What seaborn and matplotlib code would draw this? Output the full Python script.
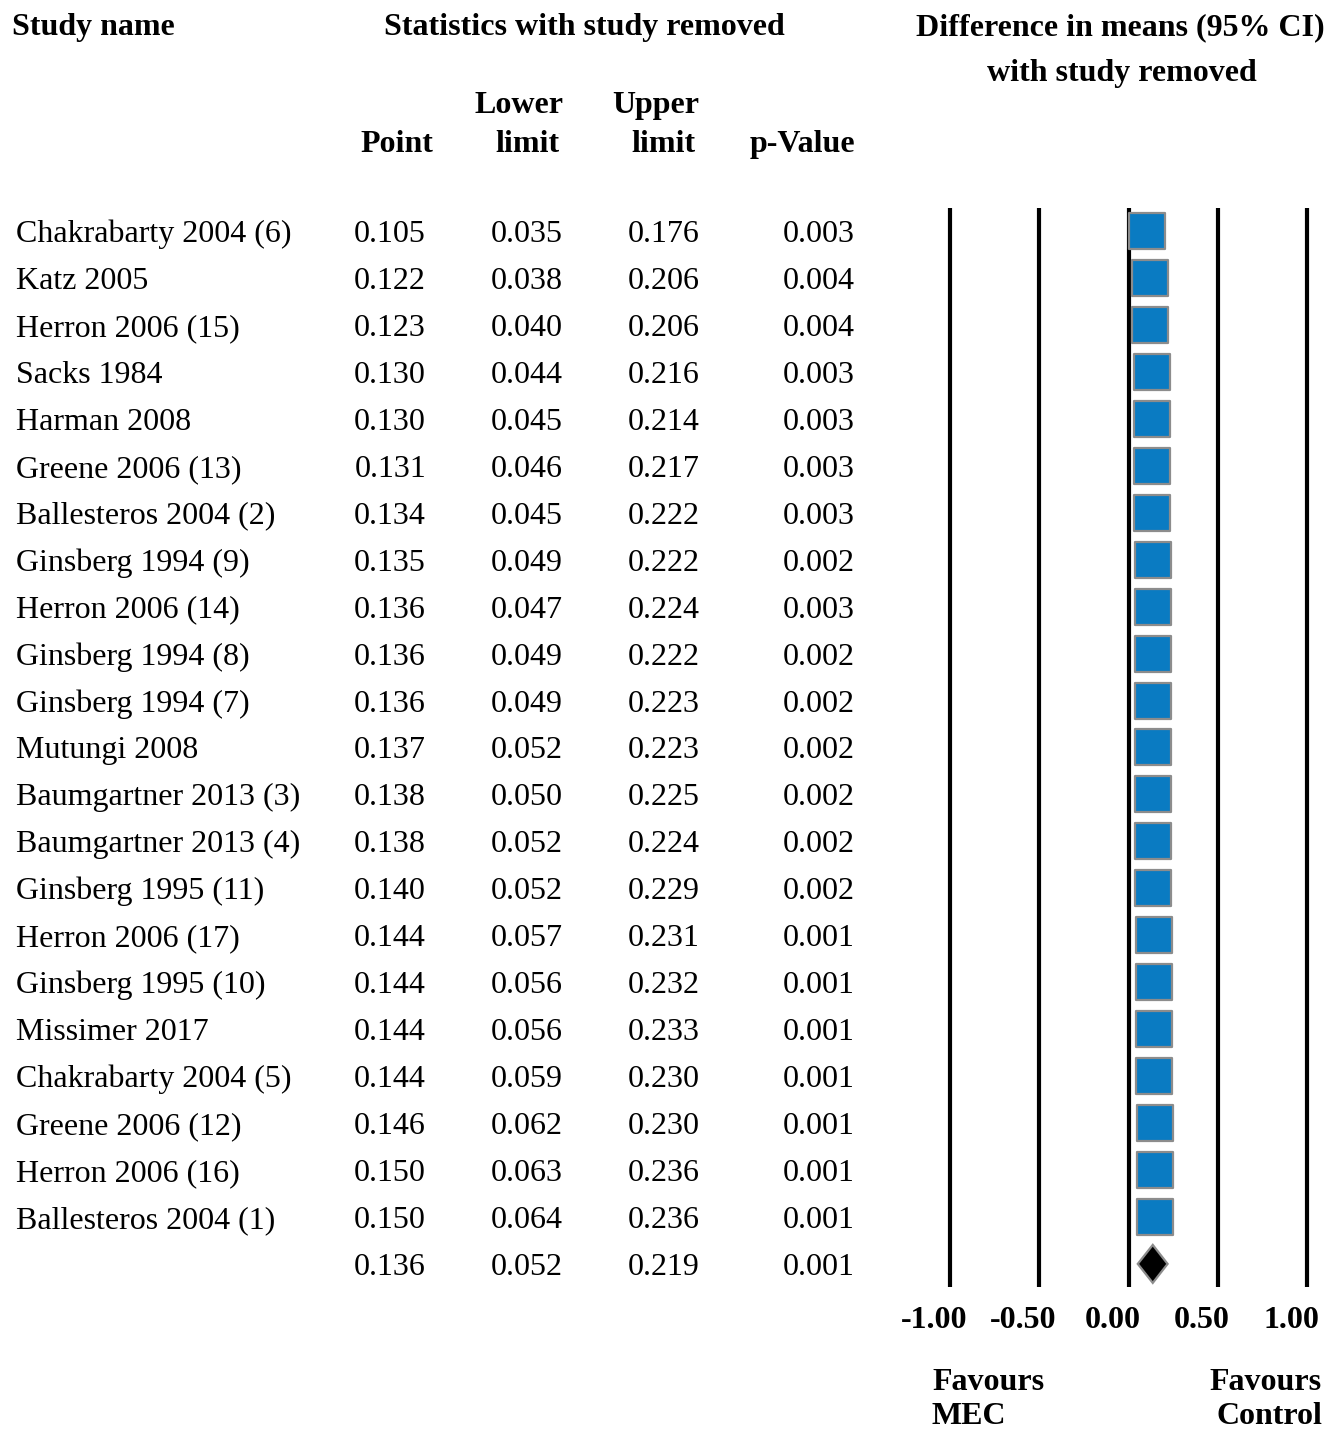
import numpy as np
import pandas as pd
import matplotlib
matplotlib.use("Agg")
import matplotlib.pyplot as plt
import seaborn as sns
from matplotlib.patches import Polygon

# --- data ---
study_names = [
    "Chakrabarty 2004 (6)", "Katz 2005", "Herron 2006 (15)", "Sacks 1984",
    "Harman 2008", "Greene 2006 (13)", "Ballesteros 2004 (2)", "Ginsberg 1994 (9)",
    "Herron 2006 (14)", "Ginsberg 1994 (8)", "Ginsberg 1994 (7)", "Mutungi 2008",
    "Baumgartner 2013 (3)", "Baumgartner 2013 (4)", "Ginsberg 1995 (11)",
    "Herron 2006 (17)", "Ginsberg 1995 (10)", "Missimer 2017", "Chakrabarty 2004 (5)",
    "Greene 2006 (12)", "Herron 2006 (16)", "Ballesteros 2004 (1)",
]
point = [0.105, 0.122, 0.123, 0.130, 0.130, 0.131, 0.134, 0.135, 0.136, 0.136, 0.136,
         0.137, 0.138, 0.138, 0.140, 0.144, 0.144, 0.144, 0.144, 0.146, 0.150, 0.150]
lower = [0.035, 0.038, 0.040, 0.044, 0.045, 0.046, 0.045, 0.049, 0.047, 0.049, 0.049,
         0.052, 0.050, 0.052, 0.052, 0.057, 0.056, 0.056, 0.059, 0.062, 0.063, 0.064]
upper = [0.176, 0.206, 0.206, 0.216, 0.214, 0.217, 0.222, 0.222, 0.224, 0.222, 0.223,
         0.223, 0.225, 0.224, 0.229, 0.231, 0.232, 0.233, 0.230, 0.230, 0.236, 0.236]
p_value = [0.003, 0.004, 0.004, 0.003, 0.003, 0.003, 0.003, 0.002, 0.003, 0.002, 0.002,
           0.002, 0.002, 0.002, 0.002, 0.001, 0.001, 0.001, 0.001, 0.001, 0.001, 0.001]
overall_point, overall_lower, overall_upper, overall_p = 0.136, 0.052, 0.219, 0.001
ticks = [-1.0, -0.5, 0.0, 0.5, 1.0]
tick_labels = ["-1.00", "-0.50", "0.00", "0.50", "1.00"]

sns.set_theme(style="white")
plt.rcParams['font.family'] = ['Liberation Serif', 'DejaVu Serif']
plt.rcParams['text.color'] = 'black'
FS = 23

W, H, DPI = 1343, 1432, 100
fig = plt.figure(figsize=(W / DPI, H / DPI), dpi=DPI)

# rows are laid out in pixel space: row 0 at y=231, step ~47 px
ROW0, ROW_H = 231, 46.95
def row_of(py):
    return (py - ROW0) / ROW_H
ylim = (row_of(H), row_of(0))
BL = 11 / ROW_H  # baseline offset below row centre

# table axes, x in pixels
tab = fig.add_axes([0, 0, 1, 1])
tab.set_xlim(0, W)
tab.set_ylim(*ylim)
tab.axis('off')

# forest axes
X0, XU = 950, 178.5  # px of -1.00, px per unit
fl, fr = 880, W
fax = fig.add_axes([fl / W, 0, (fr - fl) / W, 1])

df = pd.DataFrame({"name": study_names, "point": point, "lower": lower,
                   "upper": upper, "p": p_value})
df["row"] = np.arange(len(df))
n = len(df)

# vertical reference lines
fax.vlines(ticks, row_of(208), row_of(1287), color="black", lw=3.0, zorder=1)
# CI lines (mostly hidden behind the boxes)
fax.hlines(df["row"], df["lower"], df["upper"], color="black", lw=1.2, zorder=2)
sns.scatterplot(data=df, x="point", y="row", marker="s", s=700, color="#0a7bc2",
                edgecolor="#8c8c8c", linewidth=1.6, ax=fax, zorder=3, legend=False)

# summary diamond
dh = 19 / ROW_H
diamond = Polygon([(overall_lower, n), (overall_point, n - dh),
                   (overall_upper, n), (overall_point, n + dh)],
                  closed=True, facecolor="black", edgecolor="#8c8c8c", lw=1.6, zorder=3)
fax.add_patch(diamond)

fax.set_xlim(-1 + (fl - X0) / XU, -1 + (fr - X0) / XU)
fax.set_ylim(*ylim)
fax.axis('off')

# tick labels (sit a little left of their lines, as in the original)
tick_shift = -16 / XU
for t, lab in zip(ticks, tick_labels):
    fax.text(t + tick_shift, row_of(1328), lab, ha="center", va="baseline", fontsize=FS,
             fontweight="bold")

# headers
hb = dict(fontsize=FS, fontweight="bold", va="baseline")
tab.text(12, row_of(35), "Study name", ha="left", **hb)
tab.text(584, row_of(35), "Statistics with study removed", ha="center", **hb)
tab.text(1120, row_of(35), "Difference in means (95% CI)", ha="center", **hb)
tab.text(1122, row_of(81), "with study removed", ha="center", **hb)
tab.text(397, row_of(152), "Point", ha="center", **hb)
tab.text(519, row_of(113), "Lower", ha="center", **hb)
tab.text(527, row_of(152), "limit", ha="center", **hb)
tab.text(656, row_of(113), "Upper", ha="center", **hb)
tab.text(663, row_of(152), "limit", ha="center", **hb)
tab.text(802, row_of(152), "p-Value", ha="center", **hb)
tab.text(932, row_of(1390), "Favours", ha="left", **hb)
tab.text(932, row_of(1424), "MEC", ha="left", **hb)
tab.text(1322, row_of(1390), "Favours", ha="right", **hb)
tab.text(1322, row_of(1424), "Control", ha="right", **hb)

# table body
cols = [(426, "point"), (563, "lower"), (700, "upper"), (855, "p")]
for _, r in df.iterrows():
    y = r["row"] + BL
    tab.text(16, y, r["name"], ha="left", va="baseline", fontsize=FS)
    for x, c in cols:
        tab.text(x, y, f"{r[c]:.3f}", ha="right", va="baseline", fontsize=FS)
for x, v in zip([c[0] for c in cols], [overall_point, overall_lower, overall_upper, overall_p]):
    tab.text(x, n + BL, f"{v:.3f}", ha="right", va="baseline", fontsize=FS)

fig.savefig("out.png", dpi=DPI, facecolor="white")
